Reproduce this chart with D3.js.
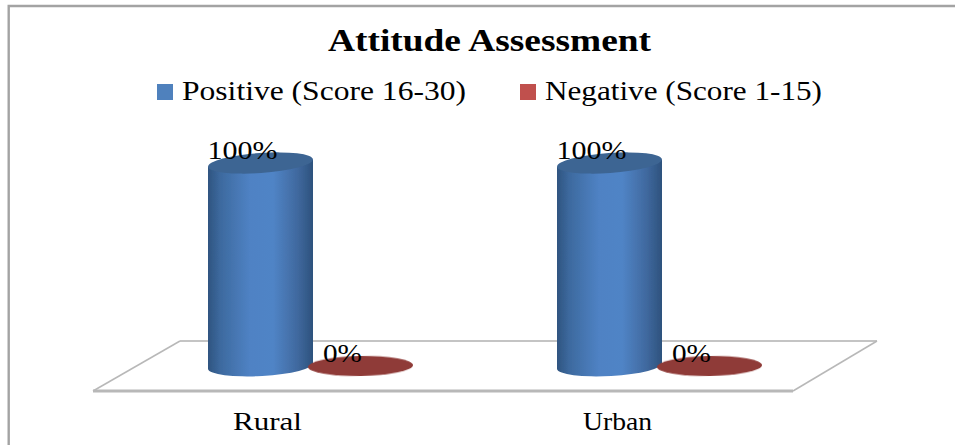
<!DOCTYPE html>
<html>
<head>
<meta charset="utf-8">
<script src="https://cdn.jsdelivr.net/npm/d3@7"></script>
<style>
  html, body { margin: 0; padding: 0; background: #fff; }
  text { font-family: "Liberation Serif", serif; fill: #000; }
</style>
</head>
<body>
<div id="chart"></div>
<script>
// data
var categories = ["Rural", "Urban"];
var seriesNames = ["Positive (Score 16-30)", "Negative (Score 1-15)"];
var positive = [100, 100];
var negative = [0, 0];
var title = "Attitude Assessment";

var width = 955, height = 445;

var svg = d3.select("#chart").append("svg")
    .attr("width", width)
    .attr("height", height)
    .style("display", "block");

var defs = svg.append("defs");

// side shading of the blue cylinders
var grad = defs.append("linearGradient").attr("id", "cyl");
[[0, "#2f5480"], [0.12, "#3d6a9f"], [0.4, "#4f82c4"], [0.62, "#5084c6"], [0.85, "#40699f"], [1, "#2d527d"]].forEach(function(s) {
  grad.append("stop").attr("offset", s[0]).attr("stop-color", s[1]);
});

var soft = defs.append("filter").attr("id", "soft");
soft.append("feGaussianBlur").attr("stdDeviation", 0.6);

// outer frame
svg.append("path")
    .attr("d", "M8.7,445V6H955")
    .attr("fill", "none")
    .attr("stroke", "#a3a3a3")
    .attr("stroke-width", 2.4);

// scales
var x0 = d3.scaleBand().domain(categories).range([136, 834]);
var x1 = d3.scaleBand().domain(seriesNames).range([74.5, 274.5]);
var y = d3.scaleLinear().domain([0, 100]).range([366, 163]);
var rx = 52.5, ry = 10;

// floor
svg.append("path")
    .attr("d", "M180,341H877")
    .attr("fill", "none")
    .attr("stroke", "#b0b0b0")
    .attr("stroke-width", 1.5);
svg.append("path")
    .attr("d", "M180,341L93,391")
    .attr("fill", "none")
    .attr("stroke", "#b8b8b8")
    .attr("stroke-width", 1.5);
svg.append("path")
    .attr("d", "M877,341L793,391")
    .attr("fill", "none")
    .attr("stroke", "#b8b8b8")
    .attr("stroke-width", 1.5);
svg.append("path")
    .attr("d", "M93,391H793")
    .attr("fill", "none")
    .attr("stroke", "#b8b8b8")
    .attr("stroke-width", 3);

var groups = svg.selectAll(".cat")
    .data(categories)
    .enter().append("g")
    .attr("class", "cat")
    .attr("transform", function(d) { return "translate(" + x0(d) + ",0)"; });

// blue cylinders
groups.each(function(d, i) {
  var g = d3.select(this).append("g").attr("filter", "url(#soft)");
  var cx = x1(seriesNames[0]) + x1.bandwidth() / 2;
  var top = y(positive[i]), base = y(0);
  g.append("path")
      .attr("d", "M" + (cx - rx) + "," + (top + 3.5) + "L" + (cx + rx) + "," + (top - 3.5) +
                 "L" + (cx + rx) + "," + (base - 3) +
                 "A" + rx + "," + ry + " -3 0 1 " + (cx - rx) + "," + (base + 3) + "Z")
      .attr("fill", "url(#cyl)");
  g.append("ellipse")
      .attr("cx", cx).attr("cy", top)
      .attr("rx", rx).attr("ry", ry)
      .attr("transform", "rotate(-4," + cx + "," + top + ")")
      .attr("fill", "#3d6593");
});

// red flat cylinders, value 0
groups.each(function(d, i) {
  var cx = x1(seriesNames[1]) + x1.bandwidth() / 2;
  var cy = y(negative[i]);
  d3.select(this).append("ellipse")
      .attr("cx", cx).attr("cy", cy)
      .attr("rx", rx).attr("ry", ry)
      .attr("transform", "rotate(-1," + cx + "," + cy + ")")
      .attr("fill", "#8f3a37")
      .attr("filter", "url(#soft)");
});

// value labels
groups.each(function(d, i) {
  var g = d3.select(this);
  g.append("text")
      .attr("x", x1(seriesNames[0]) + x1.bandwidth() / 2 - 18)
      .attr("y", y(positive[i]) - 4)
      .attr("text-anchor", "middle")
      .attr("font-size", 26)
      .attr("textLength", 70)
      .attr("lengthAdjust", "spacingAndGlyphs")
      .text(positive[i] + "%");
  g.append("text")
      .attr("x", x1(seriesNames[1]) + x1.bandwidth() / 2 - 18)
      .attr("y", y(negative[i]) - 4)
      .attr("text-anchor", "middle")
      .attr("font-size", 26)
      .attr("textLength", 39)
      .attr("lengthAdjust", "spacingAndGlyphs")
      .text(negative[i] + "%");
});

// category labels
var xAxis = d3.scalePoint().domain(categories).range([267, 617]);
svg.append("g")
    .attr("transform", "translate(0,430)")
    .call(d3.axisBottom(xAxis).tickSize(0).tickPadding(0))
    .call(function(g) { g.select(".domain").remove(); })
    .selectAll("text")
    .attr("dy", 0)
    .attr("y", 0)
    .attr("font-family", "Liberation Serif")
    .attr("font-size", 26)
    .attr("textLength", 69)
    .attr("lengthAdjust", "spacingAndGlyphs");

// title
svg.append("text")
    .attr("x", 489.5)
    .attr("y", 51)
    .attr("text-anchor", "middle")
    .attr("font-size", 32)
    .attr("font-weight", "bold")
    .attr("textLength", 323)
    .attr("lengthAdjust", "spacingAndGlyphs")
    .text(title);

// legend
var legendX = [157, 520];
var legendW = [284, 277];
var legendColors = ["#4f81bd", "#c0504d"];
var legend = svg.selectAll(".legend")
    .data(seriesNames)
    .enter().append("g")
    .attr("class", "legend");
legend.append("rect")
    .attr("x", function(d, i) { return legendX[i]; })
    .attr("y", 84)
    .attr("width", 16)
    .attr("height", 16)
    .attr("fill", function(d, i) { return legendColors[i]; });
legend.append("text")
    .attr("x", function(d, i) { return legendX[i] + 25; })
    .attr("y", 100)
    .attr("font-size", 27)
    .attr("textLength", function(d, i) { return legendW[i]; })
    .attr("lengthAdjust", "spacingAndGlyphs")
    .text(function(d) { return d; });
</script>
</body>
</html>
